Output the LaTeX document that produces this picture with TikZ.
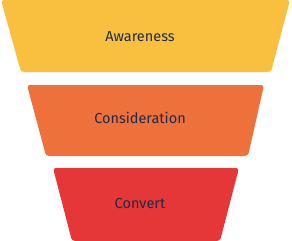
\documentclass[tikz,border=0pt]{standalone}
\usepackage{xcolor}
\usepackage{fontspec}
\setmainfont{Fira Sans}
\usepackage{tikz}
\usetikzlibrary{positioning}

\definecolor{awarecol}{HTML}{F8C03E}
\definecolor{considcol}{HTML}{EE703B}
\definecolor{convcol}{HTML}{E53638}
\definecolor{labelcol}{HTML}{1F2B4B}

\begin{document}
\begin{tikzpicture}[
    x=1pt, y=-1pt,
    % Define styles for the layers and labels
        layer/.style={rounded corners=3pt, draw=none},
        label/.style={align=center, text=labelcol, font=\fontsize{14.5}{16}\selectfont}
    ]

        \useasboundingbox (0,0) rectangle (292,241);

        % Draw the funnel layers
        \fill[layer, awarecol] (1,0) -- (290,0) -- (271,72) -- (21,72) -- cycle;

        \fill[layer, considcol] (27,85) -- (264,85) -- (248,156) -- (46,156) -- cycle;

        \fill[layer, convcol] (53,168) -- (239,168) -- (220,241) -- (72,241) -- cycle;

        % Define the labels
        \node[label] (aware) at (140,37) {Awareness};

        \node[label] (consid) at (140,118) {Consideration};

        \node[label] (conv) at (140,204) {Convert};
    \end{tikzpicture}
\end{document}
